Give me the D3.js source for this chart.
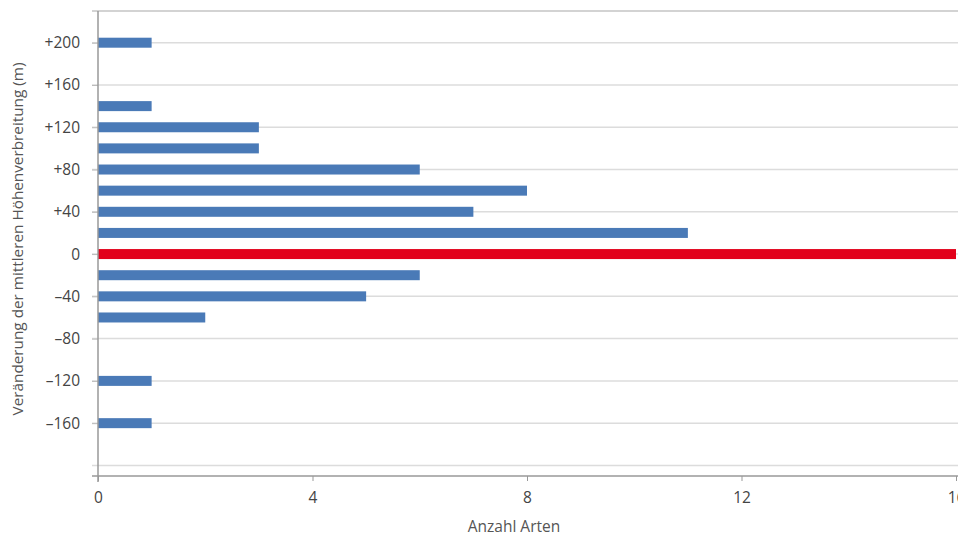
<!DOCTYPE html>
<html><head><meta charset="utf-8">
<script src="https://cdn.jsdelivr.net/npm/d3@7"></script>
<style>body{margin:0;background:#fff}svg{display:block}text{font-family:"Open Sans",sans-serif}</style>
</head><body><svg id="c" width="958" height="538"></svg>
<script>
const categories = [200, 140, 120, 100, 80, 60, 40, 20, 0, -20, -40, -60, -120, -160];
const counts =     [1,   1,   3,   3,   6,  8,  7,  11, 16, 6,  5,   2,   1,    1];
const yTicks = [200, 160, 120, 80, 40, 0, -40, -80, -120, -160];
const yTickLabels = ["+200","+160","+120","+80","+40","0","–40","–80","–120","–160"];
const xTicks = [0, 4, 8, 12, 16];
const highlight = 0;

const svg = d3.select("#c");
const x = d3.scaleLinear().domain([0,16]).range([98,956]);
const y = d3.scaleLinear().domain([-210,230]).range([476,11]);

// gridlines
const grid = [-200, ...yTicks];
svg.append("g").selectAll("line").data(grid).join("line")
  .attr("x1",92).attr("x2",958).attr("y1",d=>y(d)).attr("y2",d=>y(d))
  .attr("stroke","#dcdcdc").attr("stroke-width",1.5);
svg.append("line").attr("x1",92).attr("x2",958).attr("y1",y(230)).attr("y2",y(230))
  .attr("stroke","#c4c4c4").attr("stroke-width",1.5);

// bars
const bh = 10;
svg.append("g").selectAll("rect").data(categories).join("rect")
  .attr("x",x(0)).attr("y",(d)=>y(d)-bh/2)
  .attr("width",(d,i)=>x(counts[i])-x(0)).attr("height",bh)
  .attr("fill",d=>d===highlight?"#e2001a":"#4a7ab7");

// y axis
const ya = svg.append("g").attr("transform",`translate(${x(0)},0)`)
  .call(d3.axisLeft(y).tickValues(yTicks).tickSize(6).tickPadding(12)
    .tickFormat((d,i)=>yTickLabels[i]));
ya.select(".domain").remove();
ya.selectAll(".tick line").attr("stroke","#bbb");
ya.selectAll("text").attr("font-size",15.5).attr("fill","#444");
svg.append("line").attr("x1",x(0)).attr("x2",x(0)).attr("y1",y(230)).attr("y2",y(-210)+6)
  .attr("stroke","#999").attr("stroke-width",1.5);

// x axis
const xa = svg.append("g").attr("transform",`translate(0,${y(-210)})`)
  .call(d3.axisBottom(x).tickValues(xTicks).tickSize(5).tickPadding(11));
xa.select(".domain").remove();
xa.selectAll(".tick line").attr("stroke","#999");
xa.selectAll("text").attr("font-size",15.5).attr("fill","#444");
svg.append("line").attr("x1",92).attr("x2",958).attr("y1",y(-210)).attr("y2",y(-210))
  .attr("stroke","#999").attr("stroke-width",1.5);

svg.append("text").attr("x",514).attr("y",532).attr("text-anchor","middle")
  .attr("font-size",15.5).attr("fill","#555").text("Anzahl Arten");
svg.append("text").attr("transform","translate(23,239) rotate(-90)").attr("text-anchor","middle")
  .attr("font-size",15.3).attr("fill","#555").text("Veränderung der mittleren Höhenverbreitung (m)");
</script></body></html>
